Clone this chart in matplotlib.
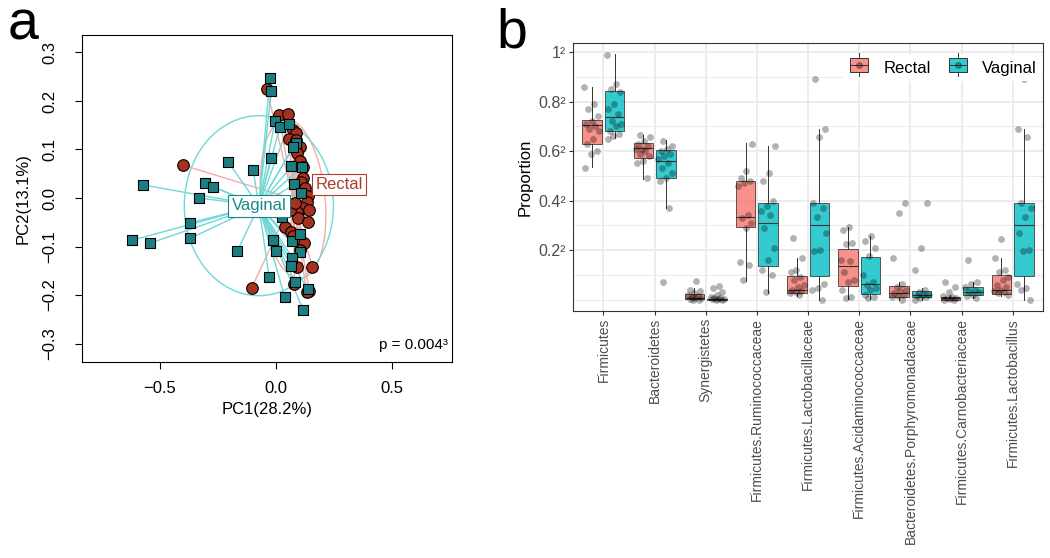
import matplotlib
matplotlib.use("Agg")
import matplotlib.pyplot as plt
import numpy as np
from matplotlib.patches import Ellipse, Rectangle
from matplotlib.lines import Line2D
from matplotlib.collections import LineCollection
from matplotlib.legend_handler import HandlerBase

plt.rcParams['font.family'] = ['Liberation Sans', 'DejaVu Sans']

# ---- panel a: PCoA scores ----
rectal_pc1 = [-0.040, 0.014, 0.052, -0.402, 0.075, 0.086, 0.057, 0.088, 0.103, 0.089,
              0.105, 0.115, 0.118, 0.106, 0.126, 0.137, 0.132, 0.118, 0.089, 0.144,
              0.095, 0.140, 0.037, 0.063, 0.075, 0.120, 0.103, 0.089, 0.157, -0.105,
              0.080, 0.144, 0.132, 0.060, 0.081]
rectal_pc2 = [0.225, 0.171, 0.173, 0.068, 0.140, 0.133, 0.121, 0.120, 0.106, 0.093,
              0.077, 0.064, 0.041, 0.032, 0.020, 0.004, -0.009, -0.021, -0.028, -0.024,
              -0.041, -0.049, -0.059, -0.071, -0.079, -0.093, -0.107, -0.143, -0.143, -0.186,
              -0.178, -0.192, -0.194, -0.025, -0.011]
vaginal_pc1 = [-0.026, -0.020, -0.004, 0.017, 0.056, 0.086, 0.075, -0.020, -0.207, -0.098,
               0.066, 0.111, -0.572, -0.305, -0.273, -0.330, 0.080, 0.106, -0.171, -0.062,
               0.027, -0.371, -0.619, -0.542, -0.369, -0.014, 0.070, 0.102, -0.167, -0.001,
               0.102, 0.070, 0.065, -0.030, 0.083, 0.137, 0.037, 0.118]
vaginal_pc2 = [0.248, 0.221, 0.159, 0.147, 0.152, 0.114, 0.106, 0.083, 0.075, 0.057,
               0.065, 0.064, 0.027, 0.030, 0.023, 0.000, 0.028, 0.011, -0.028, -0.028,
               -0.039, -0.051, -0.087, -0.093, -0.083, -0.087, -0.089, -0.074, -0.110, -0.110,
               -0.112, -0.123, -0.140, -0.162, -0.174, -0.188, -0.203, -0.231]

# ---- panel b: sqrt(proportion) per sample ----
taxa = ['Firmicutes', 'Bacteroidetes', 'Synergistetes', 'Firmicutes.Ruminococcaceae',
        'Firmicutes.Lactobacillaceae', 'Firmicutes.Acidaminococcaceae',
        'Bacteroidetes.Porphyromonadaceae', 'Firmicutes.Carnobacteriaceae',
        'Firmicutes.Lactobacillus']

rectal_values = [
    [0.86, 0.79, 0.77, 0.74, 0.72, 0.71, 0.70, 0.69, 0.68, 0.65, 0.63, 0.60, 0.59, 0.53],
    [0.665, 0.655, 0.64, 0.63, 0.62, 0.61, 0.61, 0.60, 0.59, 0.58, 0.56, 0.55, 0.49],
    [0.076, 0.04, 0.035, 0.025, 0.02, 0.015, 0.01, 0.008, 0.005, 0.003, 0.0, 0.0],
    [0.63, 0.52, 0.49, 0.48, 0.47, 0.46, 0.34, 0.33, 0.31, 0.29, 0.15, 0.14, 0.08],
    [0.247, 0.17, 0.12, 0.11, 0.09, 0.08, 0.06, 0.05, 0.04, 0.035, 0.03, 0.025, 0.02],
    [0.295, 0.28, 0.23, 0.225, 0.16, 0.155, 0.11, 0.08, 0.07, 0.04, 0.01, 0.005],
    [0.39, 0.35, 0.17, 0.065, 0.05, 0.04, 0.035, 0.025, 0.02, 0.015, 0.01, 0.0],
    [0.07, 0.05, 0.03, 0.015, 0.01, 0.008, 0.005, 0.003, 0.0, 0.0],
    [0.245, 0.17, 0.12, 0.11, 0.09, 0.08, 0.06, 0.05, 0.04, 0.035, 0.03, 0.025, 0.02],
]
vaginal_values = [
    [0.99, 0.87, 0.85, 0.84, 0.79, 0.77, 0.75, 0.72, 0.71, 0.70, 0.68, 0.67, 0.66, 0.65],
    [0.64, 0.62, 0.61, 0.60, 0.59, 0.58, 0.57, 0.55, 0.53, 0.51, 0.49, 0.48, 0.37, 0.07],
    [0.055, 0.045, 0.03, 0.02, 0.012, 0.008, 0.005, 0.003, 0.002, 0.001, 0.0, 0.0],
    [0.62, 0.51, 0.48, 0.40, 0.38, 0.36, 0.34, 0.29, 0.21, 0.16, 0.12, 0.10, 0.03],
    [0.89, 0.69, 0.655, 0.39, 0.37, 0.335, 0.27, 0.20, 0.195, 0.063, 0.045, 0.04, 0.0],
    [0.256, 0.235, 0.21, 0.175, 0.10, 0.07, 0.06, 0.045, 0.04, 0.02, 0.01, 0.005],
    [0.39, 0.21, 0.12, 0.04, 0.03, 0.02, 0.018, 0.015, 0.01, 0.005, 0.0],
    [0.16, 0.072, 0.065, 0.05, 0.04, 0.035, 0.03, 0.02, 0.015, 0.008],
    [0.89, 0.69, 0.655, 0.39, 0.37, 0.335, 0.27, 0.20, 0.195, 0.063, 0.045, 0.04, 0.0],
]

# box summaries on the sqrt scale: whisker low, q1, median, q3, whisker high
rectal_box = [
    (0.534, 0.628, 0.704, 0.725, 0.858), (0.489, 0.574, 0.611, 0.632, 0.667),
    (0.0, 0.001, 0.008, 0.024, 0.045), (0.077, 0.293, 0.332, 0.480, 0.634),
    (0.015, 0.025, 0.037, 0.096, 0.170), (0.003, 0.057, 0.134, 0.204, 0.294),
    (0.0, 0.011, 0.025, 0.054, 0.070), (0.0, 0.0, 0.005, 0.011, 0.020),
    (0.015, 0.024, 0.039, 0.098, 0.169),
]
vaginal_box = [
    (0.652, 0.683, 0.739, 0.843, 0.991), (0.372, 0.493, 0.561, 0.604, 0.643),
    (0.0, 0.0, 0.001, 0.003, 0.006), (0.027, 0.134, 0.310, 0.390, 0.620),
    (0.0, 0.095, 0.301, 0.391, 0.688), (0.004, 0.021, 0.063, 0.172, 0.256),
    (0.0, 0.009, 0.018, 0.036, 0.045), (0.005, 0.017, 0.031, 0.052, 0.072),
    (0.0, 0.095, 0.302, 0.391, 0.688),
]

y_ticks = [0.2, 0.4, 0.6, 0.8, 1.0]
y_tick_labels = ['0.2²', '0.4²', '0.6²', '0.8²', '1²']

RECTAL_PT = '#A6311F'
VAGINAL_PT = '#1C7E82'
RECTAL_LN = '#F6ABA3'
VAGINAL_LN = '#6ED8D8'
RECTAL_TXT = '#B03A2C'
VAGINAL_TXT = '#16888B'
GREY30 = '#4D4D4D'


def cov_ellipse(x, y, k, color):
    xy = np.column_stack([x, y])
    c = xy.mean(axis=0)
    vals, vecs = np.linalg.eigh(np.cov(xy.T))
    ang = np.degrees(np.arctan2(vecs[1, 1], vecs[0, 1]))
    return Ellipse(c, 2 * k * np.sqrt(vals[1]), 2 * k * np.sqrt(vals[0]), angle=ang,
                   fill=False, edgecolor=color, lw=1.0, zorder=1)


def spider(ax, x, y, color):
    cx, cy = np.mean(x), np.mean(y)
    segs = [[(cx, cy), (a, b)] for a, b in zip(x, y)]
    ax.add_collection(LineCollection(segs, colors=color, lw=1.0, zorder=1))
    return cx, cy


def plot_pcoa(ax):
    ax.add_patch(cov_ellipse(rectal_pc1, rectal_pc2, 1.45, RECTAL_LN))
    ax.add_patch(cov_ellipse(vaginal_pc1, vaginal_pc2, 1.55, VAGINAL_LN))
    rc = spider(ax, rectal_pc1, rectal_pc2, RECTAL_LN)
    vc = spider(ax, vaginal_pc1, vaginal_pc2, VAGINAL_LN)
    ax.scatter(rectal_pc1, rectal_pc2, s=70, marker='o', c=RECTAL_PT,
               edgecolors='black', linewidths=0.8, zorder=3)
    ax.scatter(vaginal_pc1, vaginal_pc2, s=55, marker='s', c=VAGINAL_PT,
               edgecolors='black', linewidths=0.8, zorder=4)
    ax.text(vc[0], vc[1], 'Vaginal', color=VAGINAL_TXT, fontsize=12, ha='center',
            va='center', zorder=5,
            bbox=dict(boxstyle='square,pad=0.2', fc='white', ec=VAGINAL_TXT, lw=0.8))
    ax.text(rc[0] + 0.2, rc[1] + 0.03, 'Rectal', color=RECTAL_TXT, fontsize=12,
            ha='center', va='center', zorder=5,
            bbox=dict(boxstyle='square,pad=0.2', fc='white', ec=RECTAL_TXT, lw=0.8))
    ax.text(0.99, 0.03, 'p = 0.004³', transform=ax.transAxes, ha='right',
            va='bottom', fontsize=11)

    ax.set_xlim(-0.836, 0.759)
    ax.set_ylim(-0.338, 0.336)
    ax.set_xticks([-0.5, 0.0, 0.5])
    ax.set_xticklabels(['\u22120.5', '0.0', '0.5'])
    yt = [-0.3, -0.2, -0.1, 0.0, 0.1, 0.2, 0.3]
    ax.set_yticks(yt)
    ax.set_yticklabels([('\u2212%.1f' % -v) if v < 0 else '%.1f' % v for v in yt],
                       rotation=90, va='center')
    ax.tick_params(direction='out', length=5, width=0.8, labelsize=12, pad=9)
    ax.tick_params(axis='y', pad=13)
    for s in ax.spines.values():
        s.set_linewidth(0.8)
    ax.set_xlabel('PC1(28.2%)', fontsize=12, labelpad=4)
    ax.set_ylabel('PC2(13.1%)', fontsize=12, labelpad=8)


class BoxHandler(HandlerBase):
    def create_artists(self, legend, orig, xd, yd, width, height, fontsize, trans):
        fc = orig.get_facecolor()
        w = width * 0.85
        x0 = xd + (width - w) / 2
        r = Rectangle((x0, yd), w, height, facecolor=fc, edgecolor='#333333',
                      lw=0.7, transform=trans)
        med = Line2D([x0, x0 + w], [yd + height / 2] * 2, color='#333333', lw=0.7,
                     transform=trans)
        wt = Line2D([x0 + w / 2] * 2, [yd + height, yd + height * 1.35],
                    color='#333333', lw=0.7, transform=trans)
        wb = Line2D([x0 + w / 2] * 2, [yd, yd - height * 0.35], color='#333333',
                    lw=0.7, transform=trans)
        dot = Line2D([x0 + w / 2], [yd + height / 2], marker='o', ms=4,
                     color='black', alpha=0.3, transform=trans)
        return [r, med, wt, wb, dot]


def plot_boxes(ax):
    n = len(taxa)
    pos = np.arange(n)
    off, bw = 0.22, 0.38
    groups = [(rectal_box, rectal_values, -off, '#F8766D'),
              (vaginal_box, vaginal_values, off, '#00BFC4')]
    handles = []
    for box, vals, dx, col in groups:
        stats = [dict(whislo=b[0], q1=b[1], med=b[2], q3=b[3], whishi=b[4], fliers=[])
                 for b in box]
        art = ax.bxp(stats, positions=pos + dx, widths=bw, patch_artist=True,
                     showcaps=False, showfliers=False, manage_ticks=False,
                     boxprops=dict(facecolor=col, alpha=0.8, edgecolor='#333333', lw=0.7),
                     medianprops=dict(color='#333333', lw=0.8),
                     whiskerprops=dict(color='#333333', lw=0.7))
        for b in art['boxes']:
            b.set_zorder(2)
        handles.append(art['boxes'][0])
        for i, v in enumerate(vals):
            k = np.arange(len(v))
            jit = ((k * 0.618 + i * 0.31) % 1.0 - 0.5) * 0.3
            ax.scatter(pos[i] + dx + jit, v, s=24, color='black', alpha=0.3,
                       linewidths=0, zorder=3)

    ax.set_xlim(-0.6, n - 0.4)
    ax.set_ylim(-0.046, 1.038)
    ax.set_xticks(pos)
    ax.set_xticklabels(taxa, rotation=90, fontsize=10, va='top', ha='center',
                       color=GREY30)
    ax.set_yticks(y_ticks)
    ax.set_yticklabels(y_tick_labels, fontsize=11.5, color=GREY30)
    ax.set_yticks([0.0, 0.1, 0.3, 0.5, 0.7, 0.9], minor=True)
    ax.grid(True, which='major', color='#EBEBEB', lw=1.3, zorder=0)
    ax.grid(True, which='minor', axis='y', color='#EBEBEB', lw=0.7, zorder=0)
    ax.set_axisbelow(True)
    ax.tick_params(which='major', length=3, width=0.8, color='#333333', pad=2)
    ax.tick_params(which='minor', length=0)
    for s in ax.spines.values():
        s.set_color('#333333')
        s.set_linewidth(0.8)
    ax.set_ylabel('Proportion', fontsize=12, labelpad=4)
    leg = ax.legend(handles, ['Rectal', 'Vaginal'], handler_map={type(handles[0]): BoxHandler()},
                    loc='upper right', bbox_to_anchor=(1.015, 0.985), ncol=2,
                    fontsize=12, frameon=True, fancybox=False, framealpha=1,
                    edgecolor='none', handlelength=1.3, handleheight=0.9,
                    columnspacing=1.0, handletextpad=0.8, borderpad=0.3)
    leg.set_zorder(10)


def main():
    fig = plt.figure(figsize=(10.5, 5.58), dpi=100)
    ax_a = fig.add_axes([82 / 1050, 1 - 362 / 558, 370 / 1050, 327 / 558])
    ax_b = fig.add_axes([572.7 / 1050, 1 - 311 / 558, 470.7 / 1050, 268.3 / 558])
    plot_pcoa(ax_a)
    plot_boxes(ax_b)
    fig.text(8 / 1050, 1 - 40 / 558, 'a', fontsize=40, ha='left', va='baseline')
    fig.text(496 / 1050, 1 - 48 / 558, 'b', fontsize=40, ha='left', va='baseline')
    fig.savefig('out.png', dpi=100)


if __name__ == "__main__":
    main()
